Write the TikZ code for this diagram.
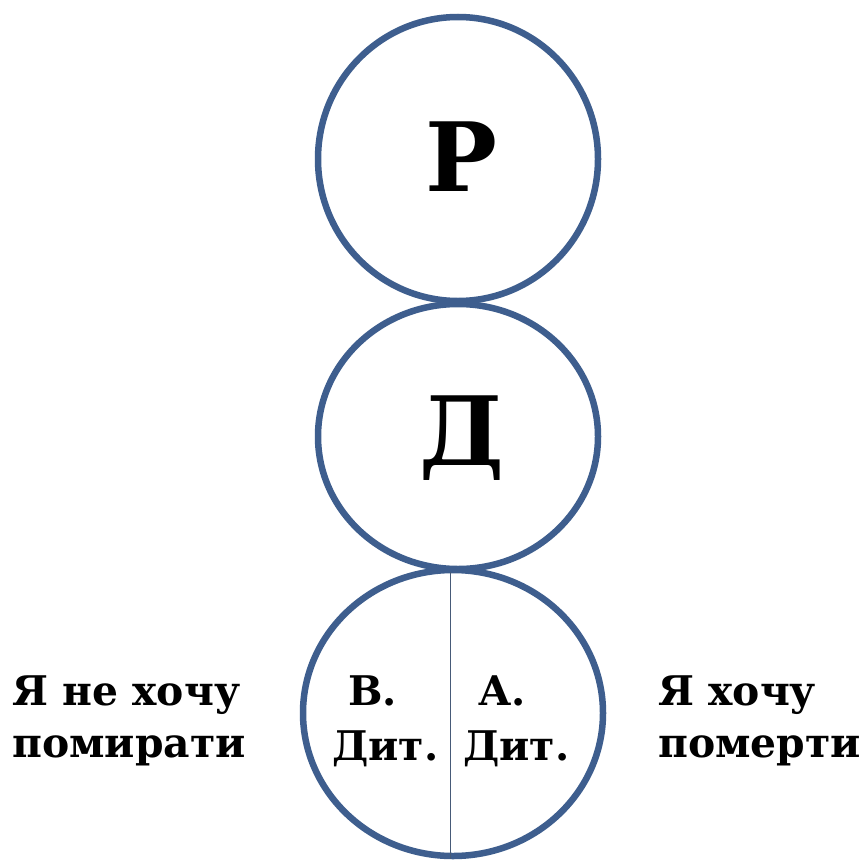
\documentclass[tikz,border=0pt]{standalone}
\usepackage{fontspec}
\setmainfont{DejaVu Serif}
\usetikzlibrary{shapes.geometric}
\definecolor{ringblue}{RGB}{62,94,142}
\definecolor{splitline}{RGB}{70,90,120}
\tikzset{
  ring/.style={ellipse, draw=ringblue, line width=6.5bp, inner sep=0pt},
  bigletter/.style={font=\fontsize{96}{96}\selectfont\bfseries, inner sep=0pt},
  label/.style={font=\fontsize{41}{41}\selectfont\bfseries, inner sep=0pt, anchor=base west},
}
\begin{document}
\begin{tikzpicture}[x=1bp,y=-1bp]
\useasboundingbox (0,0) rectangle (862,863);
\fill[white] (0,0) rectangle (862,863);
\node[ring, minimum width=280bp, minimum height=284bp] (top) at (458,159) {};
\node[ring, minimum width=280bp, minimum height=265bp] (mid) at (458,436.5) {};
\node[ring, minimum width=300bp, minimum height=286bp] (bot) at (453,713) {};
\node[bigletter] (P) at (461,157) {Р};
\node[bigletter] (D) at (462,438) {Д};
\draw[splitline, line width=1bp] (mid.south) ++(-8,0) coordinate (ls) -- (ls |- bot.south) coordinate (le);
\node[label] (l1) at (12,705) {Я не хочу};
\node[label] (l2) at (12,757) {помирати};
\node[label] (r1) at (658,705) {Я хочу};
\node[label] (r2) at (658,757) {померти};
\node[label] (b1) at (348,705) {В.};
\node[label] (b2) at (332,760) {Дит.};
\node[label] (a1) at (478,705) {А.};
\node[label] (a2) at (463,760) {Дит.};
\end{tikzpicture}
\end{document}
